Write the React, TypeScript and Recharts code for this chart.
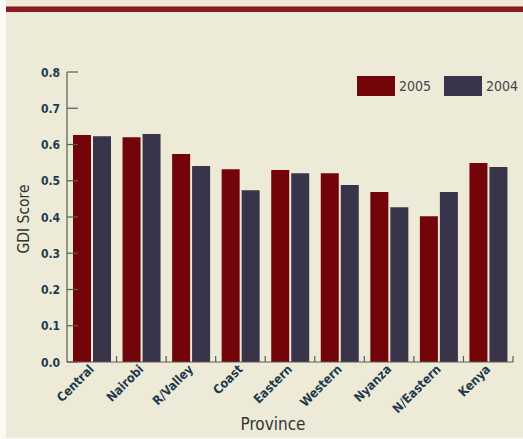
import React from 'react';
import { BarChart, Bar, XAxis, YAxis } from 'recharts';

// Gender Development Index by province
const provinces = ['Central', 'Nairobi', 'R/Valley', 'Coast', 'Eastern', 'Western', 'Nyanza', 'N/Eastern', 'Kenya'];
const gdi2005 = [0.626, 0.62, 0.574, 0.532, 0.53, 0.521, 0.469, 0.402, 0.549];
const gdi2004 = [0.623, 0.629, 0.541, 0.474, 0.521, 0.488, 0.427, 0.469, 0.538];
const yTicks = [0, 0.1, 0.2, 0.3, 0.4, 0.5, 0.6, 0.7, 0.8];

const series = [
  { key: 'y2005', name: '2005', color: '#730409' },
  { key: 'y2004', name: '2004', color: '#38354a' },
];

const data = provinces.map((p, i) => ({ province: p, y2005: gdi2005[i], y2004: gdi2004[i] }));

const FONT = "'Liberation Sans Narrow', 'DejaVu Sans Condensed', 'DejaVu Sans', sans-serif";
const COND = { fontStretch: 'condensed' } as React.CSSProperties;
const AXIS = '#5b5b52';
const TICK_TEXT = '#1e3b4c';

const YTick = (props: any) => {
  const { x, y, payload } = props;
  return (
    <g>
      <line x1={x} y1={y} x2={x + 11} y2={y} stroke={AXIS} strokeWidth={1.2} />
      <text x={x - 7} y={y} dy={4.5} textAnchor="end" fontFamily={FONT} style={COND} fontWeight="bold" fontSize={12} fill={TICK_TEXT}>
        {Number(payload.value).toFixed(1)}
      </text>
    </g>
  );
};

const XTick = (props: any) => {
  const { x, y, payload } = props;
  const half = payload.offset ?? 24.8;
  const edge = x + half;
  const tx = x + 3;
  const ty = y + 8;
  return (
    <g>
      <line x1={edge} y1={y} x2={edge} y2={y - 6} stroke={AXIS} strokeWidth={1.2} />
      <text
        x={tx}
        y={ty}
        textAnchor="end"
        transform={`rotate(-45, ${tx}, ${ty})`}
        fontFamily={FONT}
        style={COND}
        fontWeight="bold"
        fontSize={12.5}
        fill={TICK_TEXT}
      >
        {payload.value}
      </text>
    </g>
  );
};

const YLabel = (props: any) => {
  const vb = props.viewBox || { x: 27, y: 72, width: 40, height: 290 };
  const cx = vb.x - 3;
  const cy = vb.y + vb.height / 2 + 2;
  return (
    <text x={cx} y={cy} transform={`rotate(-90, ${cx}, ${cy})`} textAnchor="middle" dominantBaseline="central" fontFamily={FONT} style={COND} fontSize={15.5} fill="#333">
      GDI Score
    </text>
  );
};

const XLabel = (props: any) => {
  const vb = props.viewBox || { x: 67, y: 362, width: 446, height: 60 };
  const cx = vb.x + vb.width / 2 - 17;
  return (
    <text x={cx} y={430} textAnchor="middle" fontFamily={FONT} style={COND} fontSize={17} fill="#333">
      Province
    </text>
  );
};

export default function App() {
  return (
    <div style={{ position: 'absolute', left: 0, top: 0, width: 523, height: 439, background: '#fbfaf5', overflow: 'hidden' }}>
      <div style={{ position: 'absolute', left: 6, top: 0, width: 517, height: 438, background: '#edead8' }} />
      <div style={{ position: 'absolute', left: 6, top: 6, width: 517, height: 1, background: '#c4797a' }} />
      <div style={{ position: 'absolute', left: 6, top: 7, width: 517, height: 5, background: '#8c1a21' }} />
      <div style={{ position: 'absolute', left: 0, top: 0 }}>
        <BarChart width={523} height={439} data={data} margin={{ top: 72, right: 10, bottom: 17, left: 27 }} barSize={18} barGap={2}>
          <XAxis
            dataKey="province"
            height={60}
            interval={0}
            tickLine={false}
            tickSize={0}
            tickMargin={0}
            axisLine={{ stroke: AXIS, strokeWidth: 1.2 }}
            tick={<XTick />}
            label={<XLabel />}
          />
          <YAxis
            width={40}
            domain={[0, 0.8]}
            ticks={yTicks}
            interval={0}
            tickLine={false}
            tickSize={0}
            tickMargin={0}
            axisLine={{ stroke: AXIS, strokeWidth: 1.2 }}
            tick={<YTick />}
            label={<YLabel />}
          />
          {series.map((s) => (
            <Bar key={s.key} dataKey={s.key} name={s.name} fill={s.color} isAnimationActive={false} />
          ))}
        </BarChart>
      </div>
      {series.map((s, i) => (
        <div key={s.key} style={{ position: 'absolute', left: 357 + i * 87, top: 76, display: 'flex', alignItems: 'center' }}>
          <div style={{ width: 38, height: 20, background: s.color }} />
          <span style={{ marginLeft: 4, fontFamily: FONT, fontStretch: 'condensed', fontSize: 14, color: '#444', lineHeight: '20px' }}>{s.name}</span>
        </div>
      ))}
    </div>
  );
}
